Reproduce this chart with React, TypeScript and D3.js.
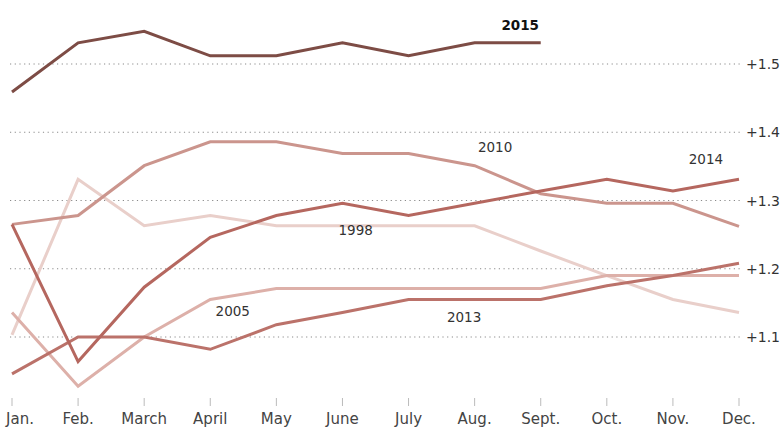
import React from "react";
import * as d3 from "d3";

const months = ["Jan.", "Feb.", "March", "April", "May", "June", "July", "Aug.", "Sept.", "Oct.", "Nov.", "Dec."];
const yTicks = [1.1, 1.2, 1.3, 1.4, 1.5];

const s1998 = [1.103, 1.331, 1.263, 1.278, 1.263, 1.263, 1.263, 1.263, 1.226, 1.19, 1.155, 1.136];
const s2005 = [1.136, 1.028, 1.1, 1.155, 1.171, 1.171, 1.171, 1.171, 1.171, 1.19, 1.19, 1.19];
const s2010 = [1.265, 1.278, 1.351, 1.386, 1.386, 1.369, 1.369, 1.351, 1.31, 1.296, 1.296, 1.262];
const s2013 = [1.046, 1.1, 1.1, 1.082, 1.118, 1.136, 1.155, 1.155, 1.155, 1.175, 1.19, 1.208];
const s2014 = [1.265, 1.064, 1.173, 1.246, 1.278, 1.296, 1.278, 1.296, 1.314, 1.331, 1.314, 1.331];
const s2015 = [1.459, 1.531, 1.548, 1.512, 1.512, 1.531, 1.512, 1.531, 1.531];

const seriesNames = ["1998", "2005", "2010", "2013", "2014", "2015"];
const seriesValues = [s1998, s2005, s2010, s2013, s2014, s2015];
const seriesColors = ["#e9cfca", "#ddb0a9", "#cb958d", "#bb726a", "#b5675f", "#7d4c45"];
// label anchor (text centre): [month index (fractional), value]
const labelPos: [number, number][] = [
  [5.2, 1.257],
  [3.34, 1.138],
  [7.31, 1.379],
  [6.84, 1.129],
  [10.5, 1.361],
  [7.69, 1.557],
];

export default function App() {
  const W = 783, H = 429;
  const x = d3.scaleLinear().domain([0, 11]).range([12, 739]);
  const y = d3.scaleLinear().domain([1.1, 1.5]).range([337, 64]);
  const line = d3.line<number>().x((_, i) => x(i)).y((d) => y(d));

  return (
    <svg width={W} height={H} style={{ position: "absolute", left: 0, top: 0, background: "#fff" }}
      fontFamily="'DejaVu Sans', sans-serif">
      {yTicks.map((t) => (
        <g key={t}>
          <line x1={10} x2={742} y1={y(t)} y2={y(t)} stroke="#8a8a8a" strokeWidth={1.2}
            strokeDasharray="1.2 3.5" />
          <text x={746} y={y(t) + 5} fontSize={14} fill="#333">{"+" + t.toFixed(1)}</text>
        </g>
      ))}
      {months.map((m, i) => (
        <g key={m}>
          <line x1={x(i)} x2={x(i)} y1={398} y2={406} stroke="#bbb" strokeWidth={1} />
          <text x={Math.max(x(i), 20)} y={424} fontSize={15} fill="#444" textAnchor="middle">{m}</text>
        </g>
      ))}
      {seriesValues.map((vals, k) => (
        <path key={seriesNames[k]} d={line(vals) || ""} fill="none" stroke={seriesColors[k]}
          strokeWidth={3} strokeLinejoin="miter" />
      ))}
      {seriesNames.map((n, k) => (
        <text key={n} x={x(labelPos[k][0])} y={y(labelPos[k][1]) + 5} fontSize={13.5}
          textAnchor="middle" fill={k === 5 ? "#111" : "#333"} fontWeight={k === 5 ? "bold" : "normal"}>
          {n}
        </text>
      ))}
    </svg>
  );
}
